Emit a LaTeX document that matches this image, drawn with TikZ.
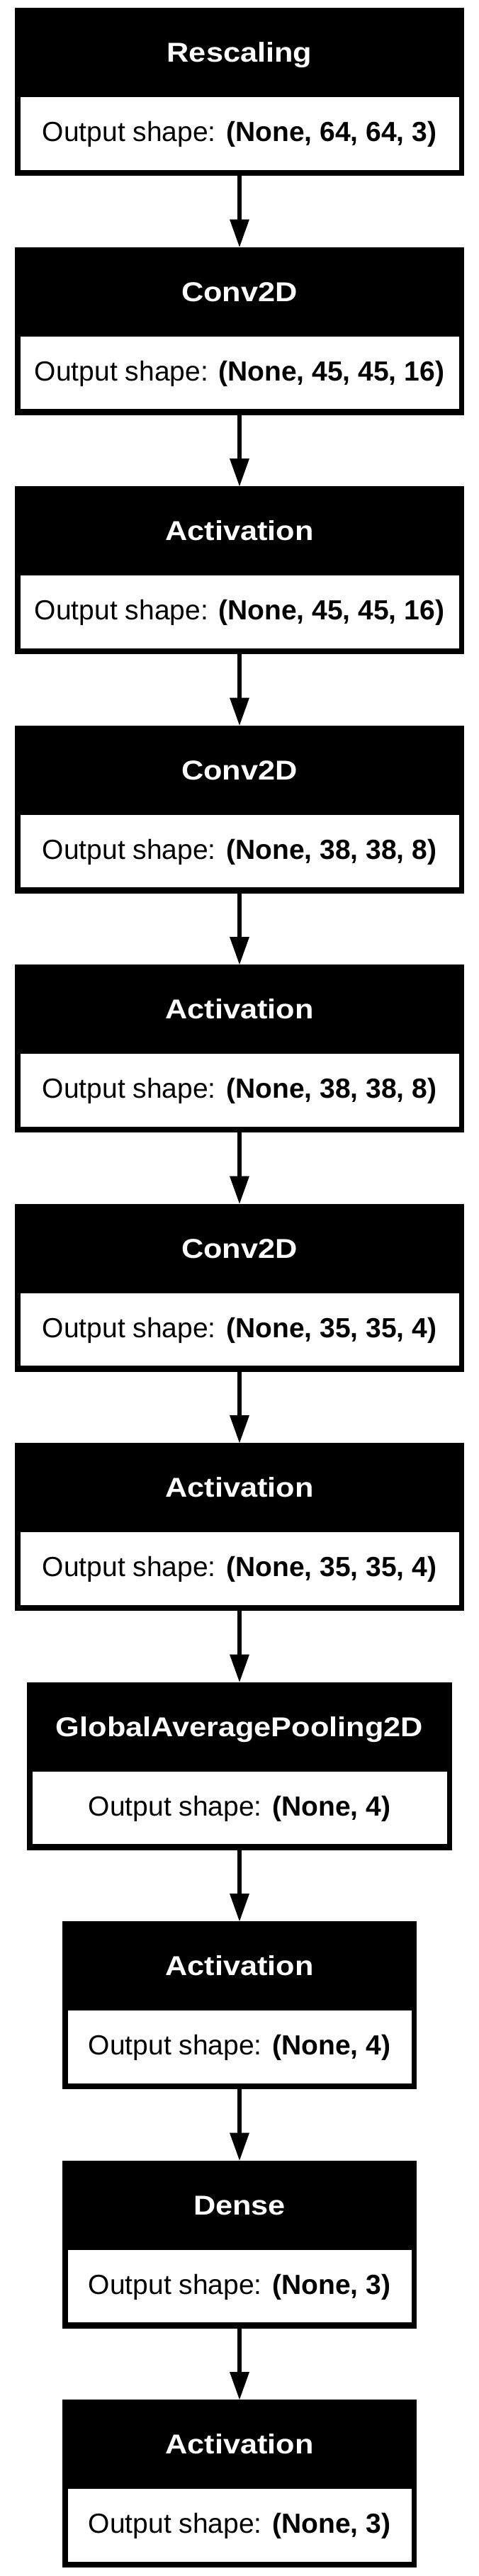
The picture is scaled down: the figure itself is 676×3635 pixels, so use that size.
\documentclass[tikz,border=0pt]{standalone}
\usepackage{fontspec}
\setmainfont{Liberation Sans}
\newfontfamily\ttlfont{Liberation Sans}[FakeStretch=1.125]
\usetikzlibrary{arrows.meta}
\tikzset{
  outerbox/.style={rectangle, fill=black, draw=none, inner sep=0pt, minimum height=237pt, anchor=north},
  innerbox/.style={rectangle, fill=white, draw=none, inner sep=0pt, minimum height=102.5pt, anchor=north},
  ttltext/.style={text=white, font=\ttlfont\bfseries\fontsize{38.5pt}{40pt}\selectfont, anchor=base, inner sep=0pt},
  outtext/.style={text=black, font=\fontsize{39pt}{41pt}\selectfont, anchor=base, inner sep=0pt},
  conn/.style={line width=5.5pt, -{Triangle[width=28pt,length=39pt,line width=0pt]}}
}
% #1 name, #2 top (pt), #3 outer width, #4 inner width, #5 title, #6 shape
\newcommand\layerblock[6]{%
  \node[outerbox, minimum width=#3pt] (#1) at (338pt,-#2pt) {};
  \node[innerbox, minimum width=#4pt] (#1in) at (338pt,-#2pt-126pt) {};
  \node[ttltext] (#1t) at (338pt,-#2pt-76.8pt) {#5};
  \node[outtext] (#1o) at (338pt,-#2pt-188.8pt) {Output shape: \textbf{#6}};
}
\begin{document}
\begin{tikzpicture}
\fill[white] (0,0) rectangle (676pt,-3635pt);
\useasboundingbox (0,0) rectangle (676pt,-3635pt);
\layerblock{b0}{11}{634}{619}{Rescaling}{(None, 64, 64, 3)}
\layerblock{b1}{348.5}{634}{619}{Conv2D}{(None, 45, 45, 16)}
\layerblock{b2}{686}{634}{619}{Activation}{(None, 45, 45, 16)}
\layerblock{b3}{1023.5}{634}{619}{Conv2D}{(None, 38, 38, 8)}
\layerblock{b4}{1361}{634}{619}{Activation}{(None, 38, 38, 8)}
\layerblock{b5}{1698.5}{634}{619}{Conv2D}{(None, 35, 35, 4)}
\layerblock{b6}{2036}{634}{619}{Activation}{(None, 35, 35, 4)}
\layerblock{b7}{2373.5}{600}{585}{GlobalAveragePooling2D}{(None, 4)}
\layerblock{b8}{2711}{500}{485}{Activation}{(None, 4)}
\layerblock{b9}{3048.5}{500}{485}{Dense}{(None, 3)}
\layerblock{b10}{3386}{500}{485}{Activation}{(None, 3)}
\draw[conn] (b0.south) -- (b1.north);
\draw[conn] (b1.south) -- (b2.north);
\draw[conn] (b2.south) -- (b3.north);
\draw[conn] (b3.south) -- (b4.north);
\draw[conn] (b4.south) -- (b5.north);
\draw[conn] (b5.south) -- (b6.north);
\draw[conn] (b6.south) -- (b7.north);
\draw[conn] (b7.south) -- (b8.north);
\draw[conn] (b8.south) -- (b9.north);
\draw[conn] (b9.south) -- (b10.north);
\end{tikzpicture}
\end{document}
